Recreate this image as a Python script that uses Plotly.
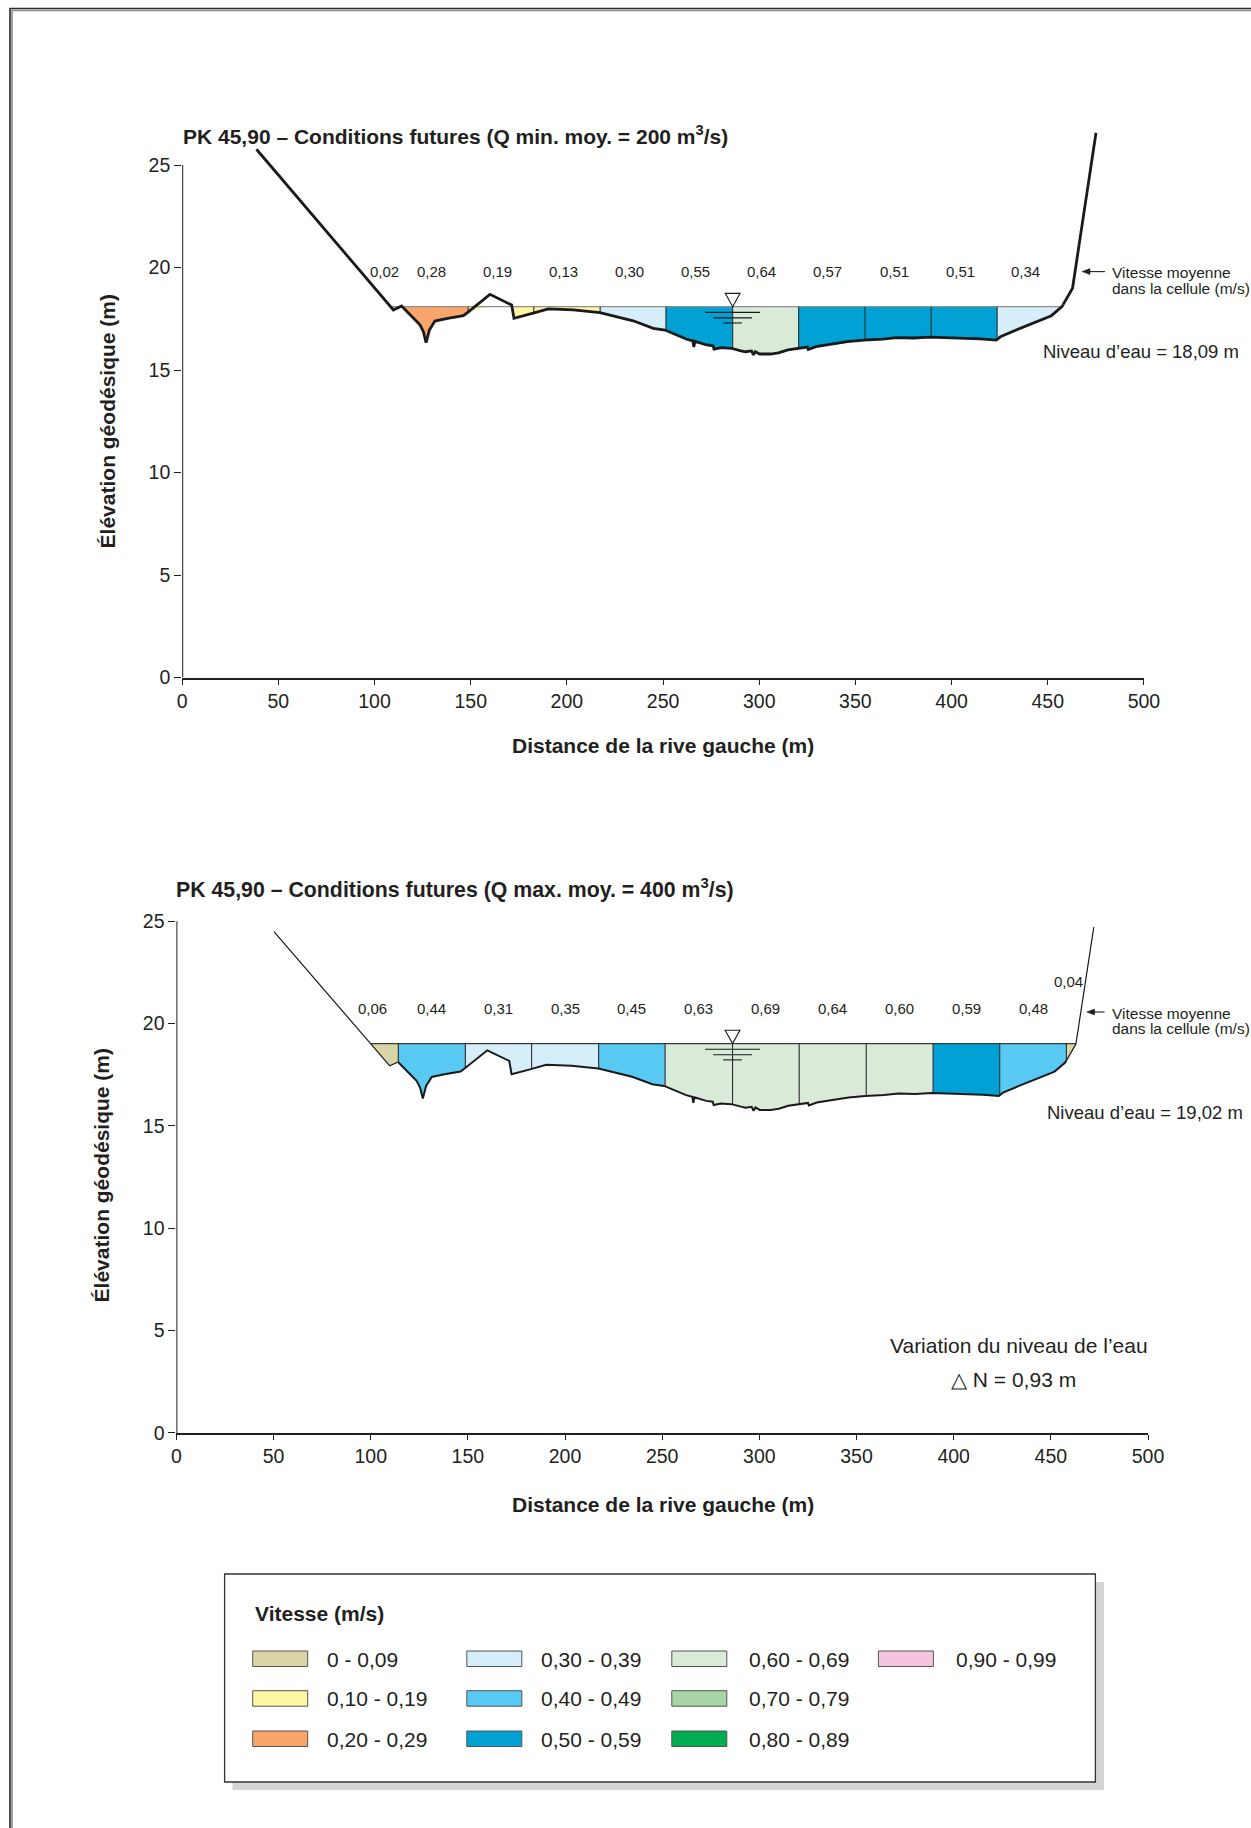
import numpy as np
import plotly.graph_objects as go

# ---------------- data ----------------
bed_x = [38.6, 107.2, 109.8, 114.1, 118.5, 123.6, 125.4, 126.8, 128.5, 131.4, 138.0, 146.2,
         148.8, 160.0, 171.3, 172.5, 182.5, 190.3, 203.3, 217.2, 234.5, 244.9, 251.0,
         257.0, 262.3, 265.5, 266.0, 266.6, 272.7, 276.0, 276.5, 280.2, 285.6, 290.0,
         292.9, 296.0, 297.0, 298.0, 300.2, 305.8, 310.0, 314.9, 320.0, 325.0, 325.5,
         329.5, 336.8, 345.9, 354.5, 360.0, 364.2, 371.5, 380.0, 388.9, 397.0, 406.2,
         415.0, 423.2, 425.4, 433.6, 444.6, 451.9, 457.4, 462.9, 475.1]
bed_y = [25.77, 18.17, 17.93, 18.12, 17.70, 17.20, 16.87, 16.33, 16.95, 17.39, 17.52, 17.65,
         17.84, 18.69, 18.17, 17.52, 17.77, 17.98, 17.93, 17.80, 17.40, 17.03, 16.95,
         16.72, 16.50, 16.42, 16.12, 16.40, 16.22, 16.18, 16.02, 16.09, 16.06, 15.95,
         15.89, 15.93, 15.74, 15.90, 15.78, 15.78, 15.84, 15.98, 16.06, 16.12, 16.00,
         16.14, 16.25, 16.38, 16.46, 16.47, 16.51, 16.58, 16.56, 16.60, 16.58, 16.55,
         16.52, 16.46, 16.62, 16.95, 17.36, 17.65, 18.09, 18.99, 26.57]
bottom_profile_start = 50.2
bottom_profile_end = 472.1

cell_edges = [114.2, 148.7, 182.8, 217.3, 251.5, 286.2, 320.5, 355.0, 389.4, 423.7, 458.0]

water_top = 18.09
water_bottom = 19.02
vel_top = [0.02, 0.28, 0.19, 0.13, 0.30, 0.55, 0.64, 0.57, 0.51, 0.51, 0.34]
vel_bottom = [0.06, 0.44, 0.31, 0.35, 0.45, 0.63, 0.69, 0.64, 0.60, 0.59, 0.48, 0.04]
delta_n = 0.93
gauge_x = 286.2

bin_labels = ["0 - 0,09", "0,10 - 0,19", "0,20 - 0,29", "0,30 - 0,39", "0,40 - 0,49",
              "0,50 - 0,59", "0,60 - 0,69", "0,70 - 0,79", "0,80 - 0,89", "0,90 - 0,99"]
bin_colors = ["#d9d5a7", "#fff6a2", "#f8a66c", "#d6eef9", "#58c9f2",
              "#00a2d5", "#d9ead8", "#a8d5a5", "#00ad50", "#f5c4dd"]

x_ticks = [0, 50, 100, 150, 200, 250, 300, 350, 400, 450, 500]
y_ticks = [0, 5, 10, 15, 20, 25]

# ---------------- helpers ----------------
WPX, HPX = 1251, 1828
FONT = "Liberation Sans, Arial, Helvetica, sans-serif"
INK = "#231f20"


def P(x):
    return x / WPX


def Q(y):
    return 1 - y / HPX


def fr(v):
    return f"{v:.2f}".replace(".", ",")


bx = np.array(bed_x)
by = np.array(bed_y)


def bed(x):
    return float(np.interp(x, bx, by))


def crossings(W):
    left = right = None
    for i in range(len(bx) - 1):
        if by[i] >= W > by[i + 1]:
            left = bx[i] + (by[i] - W) / (by[i] - by[i + 1]) * (bx[i + 1] - bx[i])
            break
    for i in range(len(bx) - 1, 0, -1):
        if by[i] >= W > by[i - 1]:
            right = bx[i - 1] + (W - by[i - 1]) / (by[i] - by[i - 1]) * (bx[i] - bx[i - 1])
            break
    return left, right


def bin_color(v):
    return bin_colors[min(int(round(v * 100)) // 10, 9)]


charts = [
    dict(xa="x", ya="y", x0=182.2, x1=1143.9, y0=677.5, pxm=20.5, W=water_top, vel=vel_top,
         start=bed_x[0], end=bed_x[-1], title="PK 45,90 – Conditions futures (Q min. moy. = 200 m<sup>3</sup>/s)",
         title_xy=(181, 135), title_size=21, ytitle_xy=(108.4, 421), xtitle_y=745, niveau_xy=(1041, 351),
         vit_xy=(1111, 272.8), arrow=(1082, 271.6, 23), surf_color="#8e8e8e", thin=2.8, thick=2.8,
         lab_dx=-2.0),
    dict(xa="x2", ya="y2", x0=176.4, x1=1148.0, y0=1432.9, pxm=20.47, W=water_bottom, vel=vel_bottom,
         start=bottom_profile_start, end=bottom_profile_end,
         title="PK 45,90 – Conditions futures (Q max. moy. = 400 m<sup>3</sup>/s)",
         title_xy=(174, 888), title_size=21.3, ytitle_xy=(101.4, 1175), xtitle_y=1504, niveau_xy=(1044.6, 1112.3),
         vit_xy=(1111, 1013.3), arrow=(1086.6, 1012, 18), surf_color="#3a3a3a", thin=1.2, thick=2.0,
         lab_dx=0.0),
]

fig = go.Figure()
shapes = []
annotations = []
layout_axes = {}

for k, c in enumerate(charts):
    W = c["W"]
    xa, ya = c["xa"], c["ya"]
    sx = (c["x1"] - c["x0"]) / 500.0
    sy = c["pxm"]
    xl, xr = crossings(W)
    edges = [xl] + [e for e in cell_edges if xl < e < xr] + [xr]

    # filled velocity cells
    for i in range(len(edges) - 1):
        a, b = edges[i], edges[i + 1]
        inner = [(x, y) for x, y in zip(bed_x, bed_y) if a < x < b]
        xs = [a, b, b] + [p[0] for p in reversed(inner)] + [a]
        ys = [W, W, min(bed(b), W)] + [min(p[1], W) for p in reversed(inner)] + [min(bed(a), W)]
        fig.add_trace(go.Scatter(x=xs, y=ys, xaxis=xa, yaxis=ya, mode="lines", fill="toself",
                                 fillcolor=bin_color(c["vel"][i]), line=dict(width=0),
                                 hoverinfo="skip", showlegend=False))

    # water surface
    fig.add_trace(go.Scatter(x=[xl, xr], y=[W, W], xaxis=xa, yaxis=ya, mode="lines",
                             line=dict(color=c["surf_color"], width=1.2), hoverinfo="skip", showlegend=False))
    # cell boundaries
    vx, vy = [], []
    for e in edges[1:-1]:
        if bed(e) < W:
            vx += [e, e, None]
            vy += [W, bed(e), None]
    fig.add_trace(go.Scatter(x=vx, y=vy, xaxis=xa, yaxis=ya, mode="lines",
                             line=dict(color="#2b2b2b", width=1.1), hoverinfo="skip", showlegend=False))

    # terrain profile
    px_ = [c["start"]] + [x for x in bed_x if c["start"] < x < c["end"]] + [c["end"]]
    lo, hi = cell_edges[0], cell_edges[-1]
    segs = [
        ([x for x in px_ if x < lo] + [lo], c["thin"]),
        ([lo] + [x for x in px_ if lo < x < hi] + [hi], c["thick"]),
        ([hi] + [x for x in px_ if x > hi], c["thin"]),
    ]
    for sxs, lw in segs:
        fig.add_trace(go.Scatter(x=sxs, y=[bed(x) for x in sxs], xaxis=xa, yaxis=ya, mode="lines",
                                 line=dict(color="#1a1a1a", width=lw), hoverinfo="skip", showlegend=False))

    # velocity labels
    n = len(edges) - 1
    for i in range(n):
        a, b = edges[i], edges[i + 1]
        lx, ly = (a + b) / 2 + c["lab_dx"], W + 1.72
        if i == 0:
            lx = (a + b) / 2 - 6.0
        if i == n - 1 and (b - a) < 15:
            lx, ly = a + 1.2, W + 3.05
        annotations.append(dict(x=lx, y=ly, xref=xa, yref=ya, text=fr(c["vel"][i]), showarrow=False,
                                font=dict(size=15, color=INK, family=FONT), xanchor="center", yanchor="middle"))

    # gauge symbol (inverted triangle + lines)
    th, tw = 13.3 / sy, 7.4 / sx
    shapes.append(dict(type="path", xref=xa, yref=ya,
                       path=f"M {gauge_x - tw},{W + th} L {gauge_x + tw},{W + th} L {gauge_x},{W} Z",
                       fillcolor="white", line=dict(color="#1a1a1a", width=1.1)))
    for off, hw in [(5.7, 27.4), (11.2, 19.4), (16.3, 9.3)]:
        shapes.append(dict(type="line", xref=xa, yref=ya, x0=gauge_x - hw / sx, x1=gauge_x + hw / sx,
                           y0=W - off / sy, y1=W - off / sy, line=dict(color="#1a1a1a", width=1.1)))

    # y axis line up to 25
    shapes.append(dict(type="line", xref=xa, yref=ya, x0=0, x1=0, y0=0, y1=25,
                       line=dict(color=INK, width=2)))

    xdom = [P(c["x0"]), P(c["x1"])]
    ydom = [Q(c["y0"]), Q(c["y0"] - 27 * c["pxm"])]
    sfx = "" if k == 0 else "2"
    layout_axes["xaxis" + sfx] = dict(domain=xdom, range=[0, 500], anchor="y" + sfx, showline=True,
                                      linecolor=INK, linewidth=2, ticks="outside", ticklen=5, tickwidth=1.4,
                                      tickcolor=INK, tickvals=x_ticks, ticktext=[str(t) for t in x_ticks],
                                      showgrid=False, zeroline=False, automargin=False, fixedrange=True,
                                      tickfont=dict(size=19.5, color=INK, family=FONT))
    layout_axes["yaxis" + sfx] = dict(domain=ydom, range=[0, 27], anchor="x" + sfx, showline=False,
                                      ticks="outside", ticklen=7, tickwidth=1.4, tickcolor=INK,
                                      tickvals=y_ticks, ticktext=[str(t) for t in y_ticks],
                                      showgrid=False, zeroline=False, automargin=False, fixedrange=True,
                                      tickfont=dict(size=19.5, color=INK, family=FONT))

    # texts
    tx, tyy = c["title_xy"]
    annotations.append(dict(x=P(tx), y=Q(tyy), xref="paper", yref="paper", text=f"<b>{c['title']}</b>",
                            showarrow=False, xanchor="left", yanchor="middle",
                            font=dict(size=c["title_size"], color=INK, family=FONT)))
    yx, yy = c["ytitle_xy"]
    annotations.append(dict(x=P(yx), y=Q(yy), xref="paper", yref="paper", text="<b>Élévation géodésique (m)</b>",
                            showarrow=False, textangle=-90, xanchor="center", yanchor="middle",
                            font=dict(size=21, color=INK, family=FONT)))
    annotations.append(dict(x=P(663.4), y=Q(c["xtitle_y"]), xref="paper", yref="paper",
                            text="<b>Distance de la rive gauche (m)</b>", showarrow=False,
                            xanchor="center", yanchor="middle", font=dict(size=21, color=INK, family=FONT)))
    nx, ny = c["niveau_xy"]
    annotations.append(dict(x=P(nx), y=Q(ny), xref="paper", yref="paper",
                            text=f"Niveau d’eau = {fr(W)} m", showarrow=False,
                            xanchor="left", yanchor="middle", font=dict(size=18.5, color=INK, family=FONT)))
    vxp, vyp = c["vit_xy"]
    for j, line in enumerate(["Vitesse moyenne", "dans la cellule (m/s)"]):
        annotations.append(dict(x=P(vxp), y=Q(vyp + j * 15.6), xref="paper", yref="paper", text=line,
                                showarrow=False, xanchor="left", yanchor="middle", borderpad=0,
                                font=dict(size=15.5, color=INK, family=FONT)))
    # pointer arrow (line + head)
    ax_, ay_, al = c["arrow"]
    shapes.append(dict(type="line", xref="paper", yref="paper", x0=P(ax_ + 4), x1=P(ax_ + al),
                       y0=Q(ay_), y1=Q(ay_), line=dict(color=INK, width=1.1)))
    shapes.append(dict(type="path", xref="paper", yref="paper",
                       path=f"M {P(ax_)},{Q(ay_)} L {P(ax_ + 8)},{Q(ay_ - 3)} L {P(ax_ + 8)},{Q(ay_ + 3)} Z",
                       fillcolor=INK, line=dict(color=INK, width=0.5)))

# variation text
annotations.append(dict(x=P(1019), y=Q(1345.5), xref="paper", yref="paper", text="Variation du niveau de l’eau",
                        showarrow=False, xanchor="center", yanchor="middle",
                        font=dict(size=21, color=INK, family=FONT)))
annotations.append(dict(x=P(1013), y=Q(1379), xref="paper", yref="paper", text=f"△ N = {fr(delta_n)} m",
                        showarrow=False, xanchor="center", yanchor="middle",
                        font=dict(size=21, color=INK, family=FONT)))

# legend box
shapes.append(dict(type="rect", xref="paper", yref="paper", x0=P(232.6), x1=P(1104), y0=Q(1790), y1=Q(1582),
                   fillcolor="#d4d4d4", line=dict(width=0), layer="below"))
shapes.append(dict(type="rect", xref="paper", yref="paper", x0=P(224.6), x1=P(1095.4), y0=Q(1782), y1=Q(1574),
                   fillcolor="white", line=dict(color="#333333", width=1.3), layer="below"))
annotations.append(dict(x=P(253), y=Q(1613), xref="paper", yref="paper", text="<b>Vitesse (m/s)</b>",
                        showarrow=False, xanchor="left", yanchor="middle",
                        font=dict(size=21, color=INK, family=FONT)))
sw_x = [252.7, 466.8, 671.8, 878.4]
lab_x = [325.2, 539.3, 747.1, 953.8]
row_top = [1651, 1690.7, 1731]
for i, (lab, col) in enumerate(zip(bin_labels, bin_colors)):
    cc, rr = i // 3, i % 3
    shapes.append(dict(type="rect", xref="paper", yref="paper", x0=P(sw_x[cc]), x1=P(sw_x[cc] + 55),
                       y0=Q(row_top[rr] + 15.5), y1=Q(row_top[rr]), fillcolor=col,
                       line=dict(color="#555555", width=1)))
    annotations.append(dict(x=P(lab_x[cc]), y=Q(row_top[rr] + 8), xref="paper", yref="paper", text=lab,
                            showarrow=False, xanchor="left", yanchor="middle",
                            font=dict(size=21, color=INK, family=FONT)))

# page frame
shapes.append(dict(type="path", xref="paper", yref="paper",
                   path=f"M {P(10)},0 L {P(10)},{Q(8.5)} L 1,{Q(8.5)}",
                   line=dict(color="#2a2a2a", width=1.6)))
shapes.append(dict(type="path", xref="paper", yref="paper",
                   path=f"M {P(12)},0 L {P(12)},{Q(10.5)} L 1,{Q(10.5)}",
                   line=dict(color="#8a8a8a", width=1.6)))

fig.update_layout(width=WPX, height=HPX, autosize=False, margin=dict(l=0, r=0, t=0, b=0, pad=0),
                  paper_bgcolor="white", plot_bgcolor="rgba(0,0,0,0)", showlegend=False,
                  font=dict(family=FONT, color=INK), shapes=shapes, annotations=annotations, **layout_axes)

fig.write_html("out.html", config={"displayModeBar": False},
               post_script="document.body.style.margin='0';")
